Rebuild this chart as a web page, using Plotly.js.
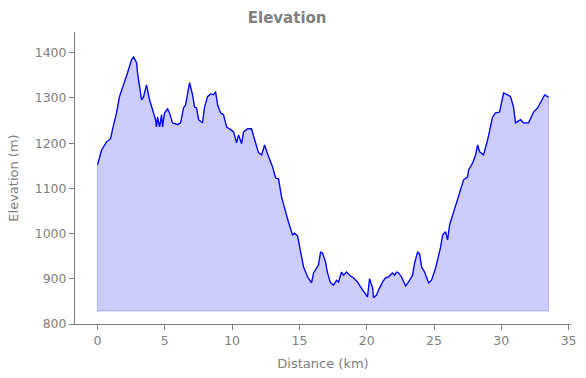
<!DOCTYPE html>
<html>
<head>
<meta charset="utf-8">
<script src="https://cdn.plot.ly/plotly-3.0.1.min.js"></script>
<style>html,body{margin:0;padding:0;background:#fff;}#chart{width:586px;height:378px;}</style>
</head>
<body>
<div id="chart"></div>
<script>
const distanceKm = [0.00,0.30,0.67,0.97,1.11,1.41,1.63,2.01,2.23,2.53,2.68,2.90,2.97,3.27,3.42,3.64,3.86,4.09,4.31,4.38,
4.46,4.61,4.76,4.83,4.98,5.20,5.35,5.57,5.94,6.17,6.39,6.54,6.69,6.84,7.06,7.21,7.36,7.51,7.80,7.95,
8.17,8.40,8.62,8.77,8.92,9.14,9.36,9.59,9.88,10.11,10.33,10.48,10.70,10.85,11.15,11.44,11.74,11.96,12.19,12.41,
12.71,13.00,13.23,13.45,13.67,13.97,14.20,14.49,14.64,14.86,15.09,15.31,15.61,15.90,16.05,16.27,16.42,16.57,16.72,16.94,
17.09,17.31,17.54,17.76,17.91,18.13,18.28,18.50,18.80,19.02,19.32,19.54,19.77,20.06,20.21,20.44,20.51,20.73,20.88,21.18,
21.40,21.62,21.92,22.07,22.22,22.37,22.59,22.89,23.11,23.41,23.56,23.78,23.93,24.08,24.30,24.60,24.82,25.12,25.49,25.64,
25.86,26.01,26.16,26.45,26.75,26.97,27.20,27.49,27.57,27.87,28.09,28.24,28.39,28.68,28.98,29.35,29.58,29.87,30.17,30.47,
30.69,30.91,31.06,31.43,31.66,32.03,32.40,32.70,32.92,33.22,33.44,33.51];
const elevationM = [1152,1185,1203,1210,1230,1267,1303,1334,1356,1385,1391,1378,1356,1296,1303,1329,1296,1274,1252,1236,
1258,1236,1263,1236,1267,1276,1267,1245,1241,1245,1278,1285,1307,1334,1307,1280,1278,1252,1245,1280,
1303,1309,1307,1314,1285,1267,1263,1236,1230,1225,1201,1218,1199,1225,1232,1232,1201,1179,1174,1196,
1170,1148,1123,1121,1081,1046,1024,997,1001,995,959,926,904,891,913,924,931,959,957,937,
913,891,886,897,893,915,908,915,906,902,893,882,871,860,900,880,858,864,875,893,
902,904,913,908,915,913,904,884,893,908,935,959,955,926,915,891,897,924,970,997,
1004,986,1019,1046,1075,1097,1119,1125,1141,1156,1174,1196,1181,1174,1207,1258,1267,1269,1311,1307,
1303,1280,1245,1252,1245,1245,1269,1278,1289,1307,1303,1303];
const fillBase = 829;
const xTicks = [0,5,10,15,20,25,30,35];
const yTicks = [800,900,1000,1100,1200,1300,1400];

const lastX = distanceKm[distanceKm.length-1];
const fillX = distanceKm.concat([lastX, distanceKm[0], distanceKm[0]]);
const fillY = elevationM.concat([fillBase, fillBase, elevationM[0]]);

const gray = '#808080';
const traces = [
  {x: fillX, y: fillY, type:'scatter', mode:'lines', fill:'toself',
   fillcolor:'rgba(0,0,255,0.2)', line:{color:'rgba(0,0,255,0.2)', width:1.2},
   hoverinfo:'skip', showlegend:false},
  {x: distanceKm, y: elevationM, type:'scatter', mode:'lines',
   line:{color:'#0000ff', width:1.3}, showlegend:false}
];
const axisCommon = {showgrid:false, zeroline:false, showline:true, linecolor:gray, linewidth:1,
  ticks:'outside', ticklen:5, tickcolor:gray, tickwidth:1,
  tickfont:{family:'DejaVu Sans', size:12.5, color:gray}};
const layout = {
  width:586, height:378,
  margin:{l:75, r:15, t:32, b:54},
  paper_bgcolor:'#fff', plot_bgcolor:'#fff',
  title:{text:'<b>Elevation</b>', x:0.49, xref:'container', y:0.952, yanchor:'middle',
    font:{family:'DejaVu Sans', size:15, color:gray}},
  xaxis:Object.assign({}, axisCommon, {range:[-1.675, 35.18], tickvals:xTicks,
    title:{text:'Distance (km)', font:{family:'DejaVu Sans', size:13, color:gray}, standoff:11}}),
  yaxis:Object.assign({}, axisCommon, {range:[800, 1446], tickvals:yTicks,
    title:{text:'Elevation (m)', font:{family:'DejaVu Sans', size:13, color:gray}, standoff:13}})
};
Plotly.newPlot('chart', traces, layout, {displayModeBar:false, staticPlot:true});
</script>
</body>
</html>
